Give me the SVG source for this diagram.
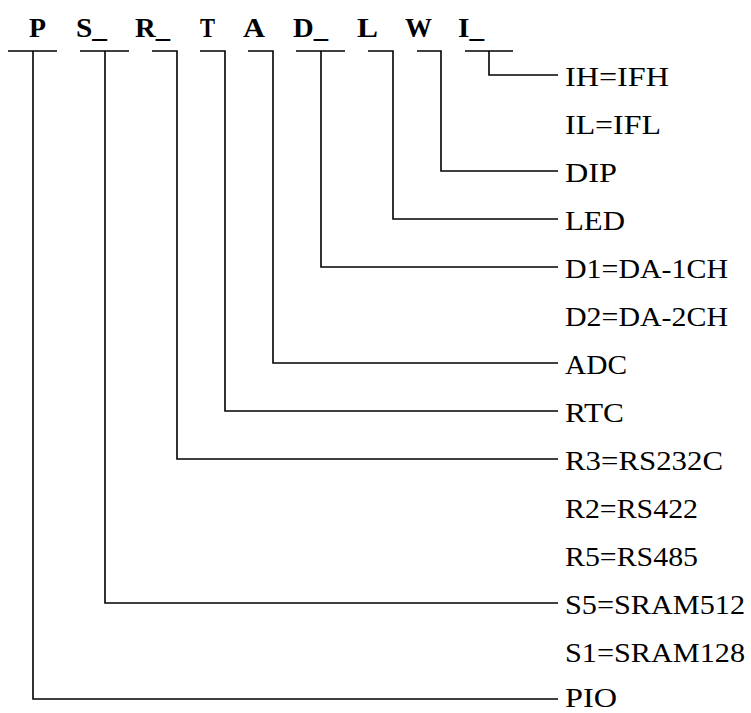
<svg xmlns="http://www.w3.org/2000/svg" width="751" height="713" viewBox="0 0 751 713">
<style>
.c{fill:none;stroke:#000;stroke-width:1.6}
.k{font-family:"Liberation Serif","DejaVu Serif",serif;font-size:28px;font-weight:bold;fill:#000}
.o{font-family:"Liberation Serif","DejaVu Serif",serif;font-size:27px;fill:#000}
</style>
<rect width="751" height="713" fill="#fff"/>
<g id="connectors">
<path class="c" d="M8,51H57M33,51V699H558"/>
<path class="c" d="M80,51H129M105,51V603H558"/>
<path class="c" d="M152,51H177V459H558"/>
<path class="c" d="M200,51H225V411H558"/>
<path class="c" d="M248,51H273V363H558"/>
<path class="c" d="M296,51H345M321,51V267H558"/>
<path class="c" d="M368,51H393V219H558"/>
<path class="c" d="M417,51H441V171H558"/>
<path class="c" d="M465,51H513M489,51V75H558"/>
</g>
<g id="code-P"><text class="k" x="29" y="37" textLength="17" lengthAdjust="spacingAndGlyphs">P</text></g>
<g id="code-S"><text class="k" x="76" y="37" textLength="31" lengthAdjust="spacingAndGlyphs">S_</text></g>
<g id="code-R"><text class="k" x="135" y="37" textLength="35" lengthAdjust="spacingAndGlyphs">R_</text></g>
<g id="code-T"><text class="k" x="200" y="37" textLength="15" lengthAdjust="spacingAndGlyphs">T</text></g>
<g id="code-A"><text class="k" x="243" y="37" textLength="22" lengthAdjust="spacingAndGlyphs">A</text></g>
<g id="code-D"><text class="k" x="293" y="37" textLength="35" lengthAdjust="spacingAndGlyphs">D_</text></g>
<g id="code-L"><text class="k" x="357" y="37" textLength="21" lengthAdjust="spacingAndGlyphs">L</text></g>
<g id="code-W"><text class="k" x="405" y="37" textLength="27" lengthAdjust="spacingAndGlyphs">W</text></g>
<g id="code-I"><text class="k" x="458" y="37" textLength="26" lengthAdjust="spacingAndGlyphs">I_</text></g>
<g id="opt-IH"><text class="o" x="565" y="86" textLength="104" lengthAdjust="spacingAndGlyphs">IH=IFH</text></g>
<g id="opt-IL"><text class="o" x="565" y="134" textLength="96" lengthAdjust="spacingAndGlyphs">IL=IFL</text></g>
<g id="opt-DIP"><text class="o" x="565" y="182" textLength="52" lengthAdjust="spacingAndGlyphs">DIP</text></g>
<g id="opt-LED"><text class="o" x="565" y="230" textLength="60" lengthAdjust="spacingAndGlyphs">LED</text></g>
<g id="opt-D1"><text class="o" x="565" y="278" textLength="163" lengthAdjust="spacingAndGlyphs">D1=DA-1CH</text></g>
<g id="opt-D2"><text class="o" x="565" y="326" textLength="163" lengthAdjust="spacingAndGlyphs">D2=DA-2CH</text></g>
<g id="opt-ADC"><text class="o" x="565" y="374" textLength="62" lengthAdjust="spacingAndGlyphs">ADC</text></g>
<g id="opt-RTC"><text class="o" x="565" y="422" textLength="59" lengthAdjust="spacingAndGlyphs">RTC</text></g>
<g id="opt-R3"><text class="o" x="565" y="470" textLength="158" lengthAdjust="spacingAndGlyphs">R3=RS232C</text></g>
<g id="opt-R2"><text class="o" x="565" y="518" textLength="133" lengthAdjust="spacingAndGlyphs">R2=RS422</text></g>
<g id="opt-R5"><text class="o" x="565" y="566" textLength="133" lengthAdjust="spacingAndGlyphs">R5=RS485</text></g>
<g id="opt-S5"><text class="o" x="565" y="614" textLength="180" lengthAdjust="spacingAndGlyphs">S5=SRAM512</text></g>
<g id="opt-S1"><text class="o" x="565" y="662" textLength="180" lengthAdjust="spacingAndGlyphs">S1=SRAM128</text></g>
<g id="opt-PIO"><text class="o" x="565" y="707" textLength="52" lengthAdjust="spacingAndGlyphs">PIO</text></g>
</svg>
